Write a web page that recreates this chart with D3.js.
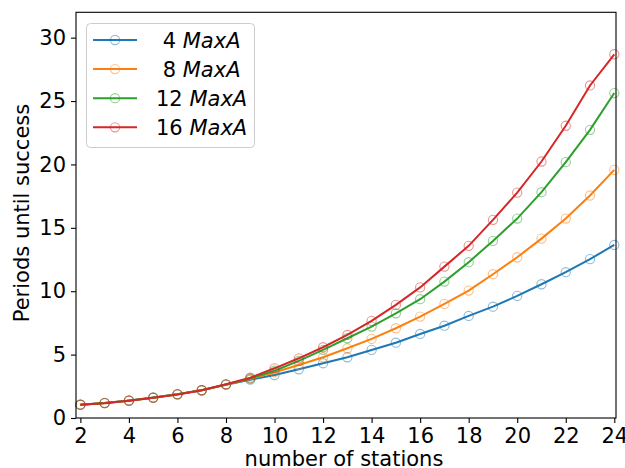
<!DOCTYPE html>
<html>
<head>
<meta charset="utf-8">
<script src="https://cdn.jsdelivr.net/npm/d3@7"></script>
<style>
  html, body { margin: 0; padding: 0; background: #fff; }
  svg { display: block; font-family: "DejaVu Sans", sans-serif; }
</style>
</head>
<body>
<div id="chart"></div>
<script>
// number of stations
const stations = [2, 3, 4, 5, 6, 7, 8, 9, 10, 11, 12, 13, 14, 15, 16, 17, 18, 19, 20, 21, 22, 23, 24];

// periods until success, one array per MaxA setting
const maxA4  = [1.05, 1.19, 1.39, 1.62, 1.88, 2.19, 2.63, 3.02, 3.39, 3.84, 4.32, 4.79, 5.37, 5.94, 6.63, 7.28, 8.05, 8.78, 9.63, 10.55, 11.5, 12.53, 13.65];
const maxA8  = [1.05, 1.18, 1.37, 1.60, 1.87, 2.19, 2.64, 3.08, 3.61, 4.18, 4.79, 5.50, 6.24, 7.08, 8.0, 9.0, 10.05, 11.34, 12.68, 14.15, 15.73, 17.55, 19.57];
const maxA12 = [1.05, 1.18, 1.37, 1.60, 1.87, 2.19, 2.65, 3.12, 3.73, 4.50, 5.37, 6.29, 7.21, 8.26, 9.37, 10.76, 12.29, 13.97, 15.73, 17.81, 20.18, 22.73, 25.63];
const maxA16 = [1.05, 1.17, 1.36, 1.59, 1.86, 2.19, 2.66, 3.18, 3.92, 4.71, 5.58, 6.55, 7.66, 8.92, 10.3, 11.94, 13.58, 15.63, 17.78, 20.23, 23.05, 26.23, 28.69];

const seriesLabels = ["4", "8", "12", "16"];
const seriesValues = [maxA4, maxA8, maxA12, maxA16];
const seriesColors = ["#1f77b4", "#ff7f0e", "#2ca02c", "#d62728"];

const xTicks = [2, 4, 6, 8, 10, 12, 14, 16, 18, 20, 22, 24];
const yTicks = [0, 5, 10, 15, 20, 25, 30];

const W = 625, H = 468;
const padL = 76, padR = 616, padT = 12.3, padB = 418;
const FS = "21px";

const svg = d3.select("#chart").append("svg")
    .attr("width", W).attr("height", H);

const x = d3.scaleLinear().domain([1.82, 24.07]).range([padL, padR]);
const y = d3.scaleLinear().domain([0, 32]).range([padB, padT]);

// axes
svg.append("g")
    .attr("transform", `translate(0,${padB})`)
    .call(d3.axisBottom(x).tickValues(xTicks).tickSize(5).tickPadding(5))
    .call(g => g.select(".domain").remove())
    .call(g => g.selectAll("line").attr("stroke", "#000").attr("stroke-width", 1.1))
    .call(g => g.selectAll("text").attr("font-size", FS).attr("fill", "#000")
        .attr("font-family", "DejaVu Sans"));

svg.append("g")
    .attr("transform", `translate(${padL},0)`)
    .call(d3.axisLeft(y).tickValues(yTicks).tickSize(5).tickPadding(5))
    .call(g => g.select(".domain").remove())
    .call(g => g.selectAll("line").attr("stroke", "#000").attr("stroke-width", 1.1))
    .call(g => g.selectAll("text").attr("font-size", FS).attr("fill", "#000")
        .attr("font-family", "DejaVu Sans"));

// series
const line = d3.line().x((d, i) => x(stations[i])).y(d => y(d));

seriesValues.forEach((vals, si) => {
    const col = seriesColors[si];
    svg.append("path")
        .datum(vals)
        .attr("fill", "none")
        .attr("stroke", col)
        .attr("stroke-width", 2)
        .attr("d", line);
    svg.append("g").selectAll("circle")
        .data(vals)
        .join("circle")
        .attr("cx", (d, i) => x(stations[i]))
        .attr("cy", d => y(d))
        .attr("r", 4.6)
        .attr("fill", "none")
        .attr("stroke", col)
        .attr("stroke-opacity", 0.5)
        .attr("stroke-width", 1.1);
});

// frame
svg.append("rect")
    .attr("x", padL).attr("y", padT)
    .attr("width", padR - padL).attr("height", padB - padT)
    .attr("fill", "none").attr("stroke", "#000").attr("stroke-width", 1.1);

// axis labels
svg.append("text")
    .attr("x", 344).attr("y", 466)
    .attr("text-anchor", "middle")
    .attr("font-size", FS)
    .text("number of stations");

svg.append("text")
    .attr("transform", "translate(29,213) rotate(-90)")
    .attr("text-anchor", "middle")
    .attr("font-size", FS)
    .text("Periods until success");

// legend
const lg = svg.append("g");
lg.append("rect")
    .attr("x", 86.5).attr("y", 23.5)
    .attr("width", 168).attr("height", 124)
    .attr("rx", 4)
    .attr("fill", "#fff").attr("fill-opacity", 0.8)
    .attr("stroke", "#ccc").attr("stroke-width", 1);

seriesLabels.forEach((lab, i) => {
    const cy = 40 + i * 29.1;
    const col = seriesColors[i];
    lg.append("line")
        .attr("x1", 93).attr("x2", 137)
        .attr("y1", cy).attr("y2", cy)
        .attr("stroke", col).attr("stroke-width", 2);
    lg.append("circle")
        .attr("cx", 115).attr("cy", cy).attr("r", 4.6)
        .attr("fill", "none").attr("stroke", col)
        .attr("stroke-opacity", 0.5).attr("stroke-width", 1.1);
    const t = lg.append("text")
        .attr("x", 156).attr("y", cy + 7.6)
        .attr("font-size", FS)
        .style("white-space", "pre");
    t.append("tspan").text((lab.length < 2 ? " " : "") + lab + " ");
    t.append("tspan").attr("font-style", "italic").text("MaxA");
});
</script>
</body>
</html>
